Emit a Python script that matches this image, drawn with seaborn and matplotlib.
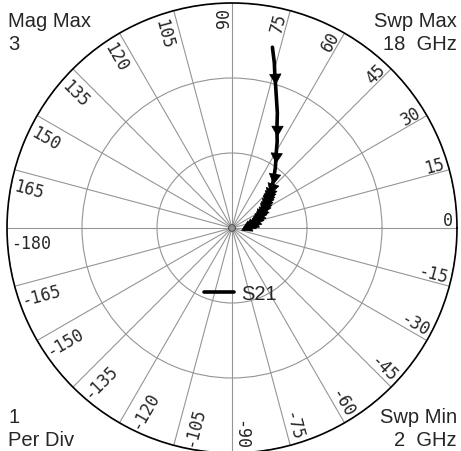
import numpy as np
import pandas as pd
import matplotlib
matplotlib.use("Agg")
import matplotlib.pyplot as plt
import seaborn as sns

# ===== DATA =====
# S21 trace, in sweep order (2 GHz at the outer end -> 18 GHz near the centre)
theta_deg = [77.4, 75.6, 74.1, 72.8, 71.5, 68.5, 65.6, 62.4, 58.7, 54.6, 50.5,
             47.8, 45.7, 43.6, 41.8, 40.2, 38.4, 36.5, 34.0, 31.5, 28.5, 25.5,
             22.5, 19.0, 15.5, 12.0, 8.0, 4.0, 0.0]
mag = [2.47, 2.27, 2.09, 1.97, 1.86, 1.65, 1.45, 1.30, 1.13, 1.00, 0.88,
       0.81, 0.76, 0.70, 0.66, 0.63, 0.60, 0.56, 0.53, 0.50, 0.46, 0.42,
       0.39, 0.35, 0.32, 0.28, 0.24, 0.20, 0.17]
arrow_idx = [2, 6, 8, 10, 12, 13, 14, 15, 16, 17, 18, 19, 20, 21, 22, 23,
             24, 25, 26, 27]

spoke_deg = list(range(0, 360, 15))
spoke_labels = [str(a) if a < 180 else str(a - 360) for a in spoke_deg]
ring_ticks = [1, 2, 3]
mag_max = 3

corner_lines = [
    # text, x px, baseline y px, ha
    ("Mag Max", 8, 27, "left"), ("3", 8, 50, "left"),
    ("Swp Max", 457, 27, "right"), ("18  GHz", 457, 50, "right"),
    ("1", 8, 423, "left"), ("Per Div", 8, 446, "left"),
    ("Swp Min", 457, 423, "right"), ("2  GHz", 457, 446, "right"),
]

W, H = 461, 452
CX, CY, R = 232, 229, 225

sns.set_style("white")
plt.rcParams["font.family"] = ["Liberation Sans", "DejaVu Sans"]

fig = plt.figure(figsize=(W / 100, H / 100), dpi=100)
ax = fig.add_axes([(CX - R) / W, (H - CY - R) / H, 2 * R / W, 2 * R / H],
                  projection="polar")

df = pd.DataFrame({"theta": np.deg2rad(theta_deg), "mag": mag})
sns.lineplot(data=df, x="theta", y="mag", sort=False, estimator=None,
             color="black", lw=2.6, label="S21", ax=ax)

ax.set_ylim(0, mag_max)
ax.set_rticks(ring_ticks)
ax.set_yticklabels([])
ax.set_thetagrids(spoke_deg, labels=[])
ax.set_xlabel("")
ax.set_ylabel("")
ax.grid(True, color="#959595", lw=0.8)
ax.spines["polar"].set_color("black")
ax.spines["polar"].set_linewidth(1.2)

# small circle at the centre
tt = np.linspace(0, 2 * np.pi, 60)
ax.plot(tt, np.full_like(tt, 0.045), color="#555555", lw=0.8)

# ===== ARROW MARKERS =====
fig.canvas.draw()
pts = ax.transData.transform(np.column_stack([df["theta"], df["mag"]]))
for i in arrow_idx:
    j0, j1 = max(i - 1, 0), min(i + 1, len(pts) - 1)
    d = pts[j1] - pts[j0]
    ang = np.degrees(np.arctan2(d[1], d[0])) - 90
    ax.plot([df["theta"][i]], [df["mag"][i]], marker=(3, 0, ang), markersize=9.5,
            markerfacecolor="black", markeredgecolor="black",
            markeredgewidth=0.5, linestyle="none", zorder=5)

# ===== SPOKE LABELS =====
r_lab = 2.95
r_px = r_lab / mag_max * R
for a, lab in zip(spoke_deg, spoke_labels):
    right = a <= 90 or a >= 270
    if right:
        rot = a if a <= 90 else a - 360
        ax.text(np.radians(a) + 3.0 / r_px, r_lab, lab, rotation=rot,
                rotation_mode="anchor", ha="right", va="baseline",
                fontsize=12, family="DejaVu Sans Mono")
    else:
        rot = a - 180
        ax.text(np.radians(a) + 6.0 / r_px, r_lab, lab, rotation=rot,
                rotation_mode="anchor", ha="left", va="top",
                fontsize=12, family="DejaVu Sans Mono")

# ===== LEGEND =====
ax.legend(loc="center", bbox_to_anchor=(240 / W, 1 - 295 / H),
          bbox_transform=fig.transFigure, frameon=False, fontsize=14.5,
          handlelength=1.5, handletextpad=0.35, borderpad=0)

# ===== CORNER TEXT =====
for txt, x, y, ha in corner_lines:
    fig.text(x / W, 1 - y / H, txt, ha=ha, va="baseline", fontsize=14.5)

fig.savefig("out.png", dpi=100)
